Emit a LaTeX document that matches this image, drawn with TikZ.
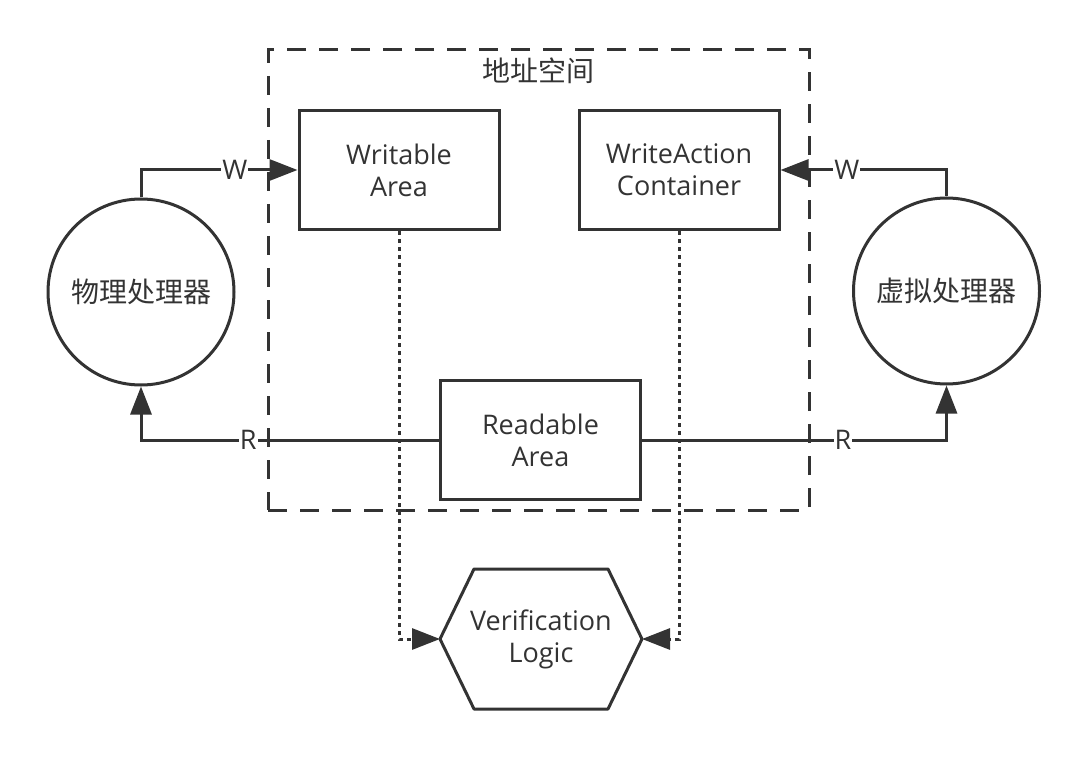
\documentclass[tikz,border=0pt]{standalone}
\usepackage{fontspec}
\setmainfont{Open Sans}
\newfontfamily\cjk{Noto Sans CJK SC}
\usetikzlibrary{arrows.meta}
\definecolor{ink}{HTML}{333333}
\tikzset{
	box/.style={draw=ink, line width=3pt, minimum width=200pt, minimum height=119pt, align=center, text=ink},
	cpu/.style={circle, draw=ink, line width=3pt, minimum size=186pt, inner sep=0pt, text=ink, font=\fontsize{28}{32}\selectfont\cjk},
	flow/.style={draw=ink, line width=3pt, -{Triangle[length=28pt,width=21pt]}},
	check/.style={flow, dash pattern=on 4pt off 4pt},
	lbl/.style={fill=white, inner sep=1pt, text=ink},
}

\begin{document}
\begin{tikzpicture}[x=1pt, y=-1pt, font=\fontsize{27}{32}\selectfont]
	\useasboundingbox (0,0) rectangle (1089,759);

	\node[draw=ink, line width=3pt, dash pattern=on 19pt off 13pt, minimum width=541pt, minimum height=460pt] (space) at (538.5,280) {};
	\node[text=ink, font=\fontsize{28}{32}\selectfont\cjk] (spacename) at (538,71) {地址空间};

	\node[box] (writable) at (399,170) {Writable\\Area};
	\node[box] (container) at (679,170) {WriteAction\\Container};
	\node[box] (readable) at (540.5,440) {Readable\\Area};

	\node[cpu] (phys) at (141,292) {物理处理器};
	\node[cpu] (virt) at (946.5,291) {虚拟处理器};

	\node[minimum width=202pt, minimum height=140pt, outer sep=0pt, align=center, text=ink] (verify) at (541,639) {Verification\\Logic};
	\draw[draw=ink, line width=3pt, line join=round] (verify.west) -- ([xshift=34pt]verify.north west) -- ([xshift=-34pt]verify.north east) -- (verify.east) -- ([xshift=-34pt]verify.south east) -- ([xshift=34pt]verify.south west) -- cycle;

	\draw[flow] (phys.north) |- node[lbl, pos=0.8] {W} (writable.west);
	\draw[flow] (virt.north) |- node[lbl, pos=0.8] {W} (container.east);
	\draw[flow] (readable.west) -| node[lbl, pos=0.32] {R} (phys.south);
	\draw[flow] (readable.east) -| node[lbl, pos=0.33] {R} (virt.south);

	\draw[check] (writable.south) |- (verify.west);
	\draw[check] (container.south) |- (verify.east);
\end{tikzpicture}
\end{document}
